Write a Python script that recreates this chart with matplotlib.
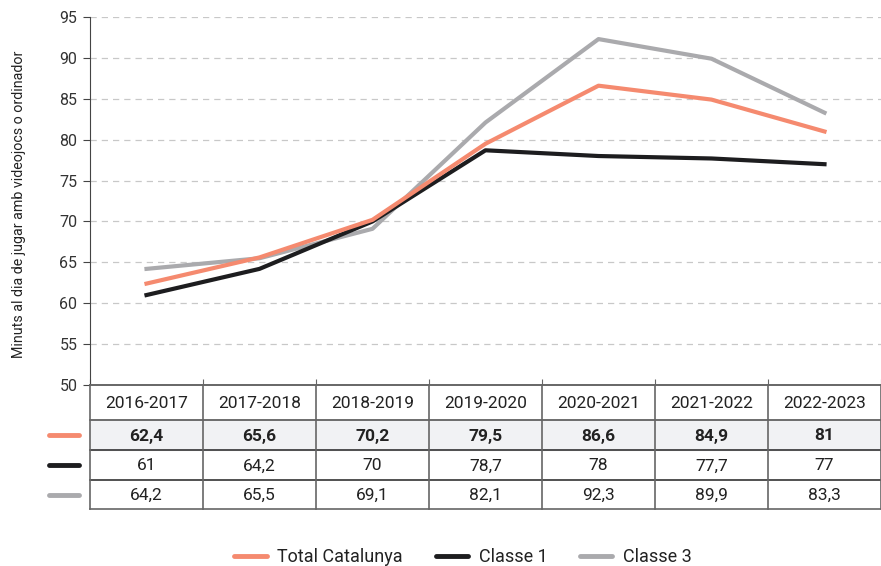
import matplotlib
matplotlib.use("Agg")
import matplotlib.pyplot as plt
from matplotlib.lines import Line2D
from matplotlib.patches import Rectangle

plt.rcParams['font.family'] = ['Roboto', 'DejaVu Sans']

# dades
cursos = ['2016-2017', '2017-2018', '2018-2019', '2019-2020',
          '2020-2021', '2021-2022', '2022-2023']
total = [62.4, 65.6, 70.2, 79.5, 86.6, 84.9, 81]
classe1 = [61, 64.2, 70, 78.7, 78, 77.7, 77]
classe3 = [64.2, 65.5, 69.1, 82.1, 92.3, 89.9, 83.3]
noms = ['Total Catalunya', 'Classe 1', 'Classe 3']
colors = ['#f58a6f', '#1d1d1f', '#aaaaad']
yticks = [50, 55, 60, 65, 70, 75, 80, 85, 90, 95]


def fmt(v):
    # format catala amb coma decimal
    s = ('%.1f' % v).rstrip('0').rstrip('.')
    return s.replace('.', ',')


W, H = 881, 566
fig = plt.figure(figsize=(W/100, H/100), dpi=100)

# grafic de linies
ax = fig.add_axes([90/W, 1-385/H, 791/W, 368/H])
x = list(range(len(cursos)))
ax.plot(x, classe3, color=colors[2], lw=3, zorder=2)
ax.plot(x, classe1, color=colors[1], lw=3, zorder=3)
ax.plot(x, total, color=colors[0], lw=3, zorder=4)
ax.set_xlim(-0.5, len(cursos)-0.5)
ax.set_ylim(50, 95)
ax.set_yticks(yticks)
ax.tick_params(axis='y', labelsize=11.5, length=5, color='#444444', labelcolor='#333333', pad=4)
ax.set_xticks([i-0.5 for i in range(len(cursos)+1)])
ax.tick_params(axis='x', direction='in', length=4, color='#666666', labelbottom=False)
ax.grid(axis='y', linestyle=(0, (5, 4)), color='#c8c8c8', lw=0.9)
ax.set_axisbelow(True)
for s in ['top', 'right']:
    ax.spines[s].set_visible(False)
ax.spines['left'].set_color('#444444')
ax.spines['bottom'].set_color('#666666')
ax.spines['bottom'].set_linewidth(1.2)
ax.set_ylabel('Minuts al dia de jugar amb videojocs o ordinador', fontsize=10.3, color='#222222')
ax.yaxis.set_label_coords(-64/791, 0.49)

# taula
tx = fig.add_axes([90/W, 1-509/H, 791/W, 124/H])
tx.set_xlim(-0.5, len(cursos)-0.5)
tx.set_ylim(124, 0)
tx.axis('off')
files = [0, 35, 65, 95, 124]
tx.add_patch(Rectangle((-0.5, files[1]), len(cursos), files[2]-files[1], color='#f1f2f4', zorder=0))
for y, c in zip(files, ['#666666', '#555555', '#333333', '#333333', '#666666']):
    tx.plot([-0.5, len(cursos)-0.5], [y, y], color=c, lw=1.2, clip_on=False)
for i in range(len(cursos)+1):
    tx.plot([i-0.5, i-0.5], [0, 124], color='#666666', lw=1.2, clip_on=False)
fs = 12.5
for i, cur in enumerate(cursos):
    tx.text(i, (files[0]+files[1])/2+1, cur, ha='center', va='center', fontsize=fs, color='#222222')
    tx.text(i, (files[1]+files[2])/2+1, fmt(total[i]), ha='center', va='center', fontsize=fs,
            fontweight='bold', color='#222222')
    tx.text(i, (files[2]+files[3])/2+1, fmt(classe1[i]), ha='center', va='center', fontsize=fs, color='#222222')
    tx.text(i, (files[3]+files[4])/2+1, fmt(classe3[i]), ha='center', va='center', fontsize=fs, color='#222222')

# marques de color a l'esquerra de la taula
for k, c in enumerate(colors):
    yc = (files[k+1]+files[k+2])/2
    yf = 1-(385+yc)/H
    fig.add_artist(Line2D([49/W, 79/W], [yf, yf], color=c, lw=3.5, solid_capstyle='round'))

# llegenda
handles = [Line2D([], [], color=c, lw=3.5, solid_capstyle='round') for c in colors]
fig.legend(handles, noms, loc='center', bbox_to_anchor=(463/W, 1-557/H), ncol=3, frameon=False,
           fontsize=13, handlelength=1.78, handletextpad=0.6, columnspacing=1.8, labelcolor='#222222')

fig.savefig('out.png', dpi=100)
